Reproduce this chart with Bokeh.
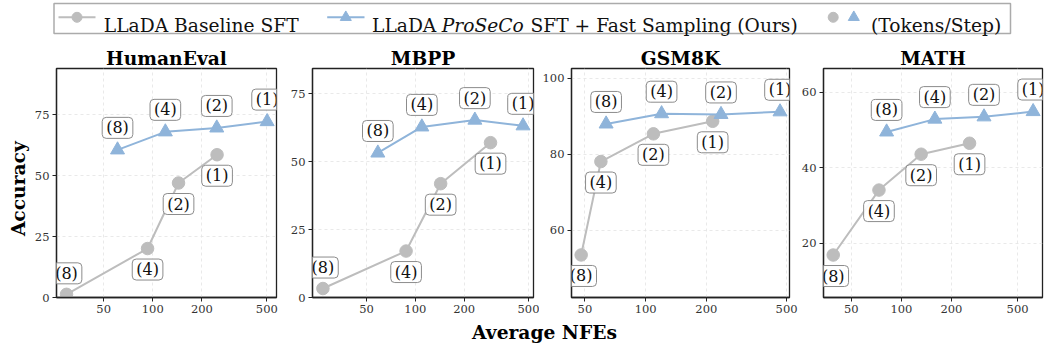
import math
from bokeh.plotting import figure
from bokeh.layouts import column, row
from bokeh.models import Range1d, FixedTicker, PrintfTickFormatter, Label
from bokeh.embed import file_html
from bokeh.resources import INLINE
from bokeh.core.properties import value

# ---------------- data ----------------
tokens_per_step = [8, 4, 2, 1]

he_base_nfe = [29.6, 92.9, 143.8, 247.7]
he_base_acc = [1.3, 20.1, 47.0, 58.6]
he_ours_nfe = [60.8, 119.4, 246.6, 502.0]
he_ours_acc = [60.6, 68.0, 69.6, 72.2]

mbpp_base_nfe = [26.9, 87.7, 143.3, 291.0]
mbpp_base_acc = [3.3, 17.1, 41.9, 57.0]
mbpp_ours_nfe = [58.7, 109.7, 233.0, 462.0]
mbpp_ours_acc = [53.2, 62.8, 65.3, 63.2]

gsm_base_nfe = [47.9, 60.0, 109.3, 215.0]
gsm_base_acc = [53.5, 78.1, 85.4, 88.7]
gsm_ours_nfe = [63.7, 120.0, 236.5, 464.0]
gsm_ours_acc = [88.0, 90.7, 90.5, 91.2]

math_base_nfe = [38.9, 73.3, 131.5, 257.0]
math_base_acc = [16.9, 34.1, 43.6, 46.5]
math_ours_nfe = [81.5, 159.0, 314.0, 620.0]
math_ours_acc = [49.5, 52.9, 53.5, 54.9]

x_ticks = [50, 100, 200, 500]

GRAY = "#bdbdbd"
BLUE = "#8fb4da"
FONT = "DejaVu Serif"
TICK_FS = "11.5px"

panels = [
    dict(title="HumanEval", bn=he_base_nfe, ba=he_base_acc, on=he_ours_nfe, oa=he_ours_acc,
         xr=(25.7, 573), yr=(0, 94), yt=[0, 25, 50, 75], above=[True, False, False, False],
         width=254, bl=26, br=8),
    dict(title="MBPP", bn=mbpp_base_nfe, ba=mbpp_base_acc, on=mbpp_ours_nfe, oa=mbpp_ours_acc,
         xr=(23.2, 536), yr=(0, 84.3), yt=[0, 25, 50, 75], above=[True, False, False, False],
         width=255, bl=28, br=6),
    dict(title="GSM8K", bn=gsm_base_nfe, ba=gsm_base_acc, on=gsm_ours_nfe, oa=gsm_ours_acc,
         xr=(42.9, 517), yr=(42.3, 102.6), yt=[60, 80, 100], above=[False, False, False, False],
         width=259, bl=29, br=9),
    dict(title="MATH", bn=math_base_nfe, ba=math_base_acc, on=math_ours_nfe, oa=math_ours_acc,
         xr=(34, 706), yr=(5.65, 66.3), yt=[20, 40, 60], above=[False, False, False, False],
         width=250, bl=25, br=6),
]

LEG_H = 36
ROW_H = 282
TOTAL_W = 1048
TOTAL_H = 346


def add_box_label(p, x, y, text, dy):
    p.add_layout(Label(x=x, y=y, text=text, x_offset=0, y_offset=dy,
                       text_align="center", text_baseline="middle",
                       text_font=FONT, text_font_size="16px", text_color="#111111",
                       border_line_color="#8c8c8c", border_line_width=1,
                       background_fill_color="white", background_fill_alpha=0.9,
                       padding=dict(x=4, y=1), border_radius=4))


def strip(width, height, x0, y0):
    f = figure(width=width, height=height, x_range=Range1d(x0, x0 + width),
               y_range=Range1d(y0 + height, y0), output_backend="svg",
               toolbar_location=None, min_border=0, title=None,
               x_axis_location=None, y_axis_location=None)
    f.grid.visible = False
    f.outline_line_color = None
    return f


# ---------------- y label strip (picture coords) ----------------
ylab = strip(30, ROW_H, 0, LEG_H)
ylab.text(x=[17.5], y=[184], text=["Accuracy"], angle=math.pi / 2,
          text_align="center", text_baseline="middle", text_font=value(FONT),
          text_font_size="18.67px", text_font_style="bold", text_color="#000000")

figs = [ylab]
for cfg in panels:
    p = figure(width=cfg["width"], height=ROW_H, x_axis_type="log",
               x_range=Range1d(*cfg["xr"]), y_range=Range1d(*cfg["yr"]),
               output_backend="svg", toolbar_location=None,
               min_border_left=cfg["bl"], min_border_right=cfg["br"],
               min_border_top=32, min_border_bottom=21)
    p.title.text = cfg["title"]
    p.title.align = "center"
    p.title.text_font = FONT
    p.title.text_font_size = "18.67px"
    p.title.text_font_style = "bold"
    p.title.text_color = "#000000"
    p.title.standoff = 0

    xt = FixedTicker(ticks=x_ticks)
    p.xaxis.ticker = xt
    p.xgrid.ticker = xt
    p.xaxis.formatter = PrintfTickFormatter(format="%d")
    yt = FixedTicker(ticks=cfg["yt"])
    p.yaxis.ticker = yt
    p.ygrid.ticker = yt

    for ax in (p.xaxis, p.yaxis):
        ax.axis_line_color = "#222222"
        ax.axis_line_width = 1.3
        ax.major_tick_line_color = "#222222"
        ax.major_tick_in = 0
        ax.major_tick_out = 4
        ax.minor_tick_line_color = None
        ax.major_label_text_font = FONT
        ax.major_label_text_font_size = TICK_FS
        ax.major_label_text_color = "#333333"
        ax.major_label_standoff = 3

    p.outline_line_color = "#222222"
    p.outline_line_width = 1.3
    p.outline_line_alpha = 1
    for g in (p.xgrid, p.ygrid):
        g.grid_line_color = "#e3e3e3"
        g.grid_line_dash = "3 3"
        g.grid_line_width = 0.8

    p.line(cfg["bn"], cfg["ba"], color=GRAY, line_width=2)
    p.scatter(cfg["bn"], cfg["ba"], marker="circle", size=12.5, color=GRAY)
    p.line(cfg["on"], cfg["oa"], color=BLUE, line_width=2)
    p.scatter(cfg["on"], cfg["oa"], marker="triangle", size=14, color=BLUE)

    for n, a, t, up in zip(cfg["bn"], cfg["ba"], tokens_per_step, cfg["above"]):
        add_box_label(p, n, a, f"({t})", 21 if up else -21)
    for n, a, t in zip(cfg["on"], cfg["oa"], tokens_per_step):
        add_box_label(p, n, a, f"({t})", 22)
    figs.append(p)

# ---------------- legend strip (picture coords) ----------------
leg = strip(TOTAL_W, LEG_H, 0, 0)
leg.quad(left=[53.5], right=[1010], top=[3], bottom=[33], fill_color="white",
         line_color="#ababab", line_width=1.5)
LY = 16.8
leg.line([58, 95], [LY, LY], color=GRAY, line_width=2)
leg.scatter([76.5], [LY], marker="circle", size=10, color=GRAY)
leg.line([326.7, 364], [LY, LY], color=BLUE, line_width=2)
leg.scatter([345.3], [LY], marker="triangle", size=11, color=BLUE)
leg.scatter([832.7], [LY], marker="circle", size=10, color=GRAY)
leg.scatter([853.3], [LY], marker="triangle", size=11, color=BLUE)
leg_texts = [
    (103.3, "LLaDA Baseline SFT", "normal"),
    (371.5, "LLaDA", "normal"),
    (441.3, "ProSeCo", "italic"),
    (530.0, "SFT + Fast Sampling (Ours)", "normal"),
    (870.5, "(Tokens/Step)", "normal"),
]
for x, t, st in leg_texts:
    leg.text(x=[x], y=[24.5], text=[t], text_align="left", text_baseline="alphabetic",
             text_font=value(FONT), text_font_size="18.67px", text_font_style=st,
             text_color="#111111")

# ---------------- x label strip (picture coords) ----------------
XL_Y0 = LEG_H + ROW_H
xl = strip(TOTAL_W, TOTAL_H - XL_Y0, 0, XL_Y0)
xl.text(x=[544], y=[XL_Y0 + (TOTAL_H - XL_Y0) / 2 - 1], text=["Average NFEs"],
        text_align="center", text_baseline="middle", text_font=value(FONT),
        text_font_size="18.67px", text_font_style="bold", text_color="#000000")

layout = column(leg, row(*figs), xl)
open("out.html", "w").write(file_html(layout, INLINE))
